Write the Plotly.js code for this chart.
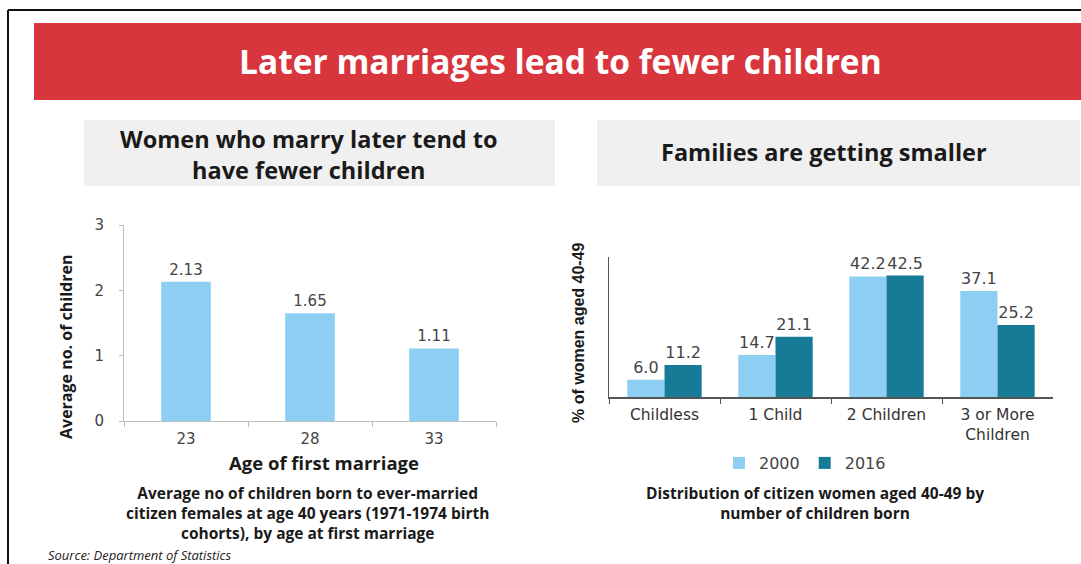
<!DOCTYPE html>
<html>
<head>
<meta charset="utf-8">
<script src="https://cdn.plot.ly/plotly-3.0.1.min.js"></script>
<style>
html,body{margin:0;padding:0;background:#fff;}
#chart{width:1081px;height:564px;}
</style>
</head>
<body>
<div id="chart"></div>
<script>
// ---- data ----
const ages = ['23', '28', '33'];
const avgChildren = [2.13, 1.65, 1.11];

const familyCats = ['Childless', '1 Child', '2 Children', '3 or More<br>Children'];
const pct2000 = [6.0, 14.7, 42.2, 37.1];
const pct2016 = [11.2, 21.1, 42.5, 25.2];

const seriesNames = ['2000', '2016'];

// ---- styles ----
const W = 1081, H = 564;
const px = x => x / W;
const py = y => 1 - y / H;
const lightBlue = '#8ccff2';
const darkTeal = '#177b98';
const calibri = '"Open Sans", Lato, sans-serif';
const verdana = '"DejaVu Sans", Verdana, sans-serif';
const dark = '#1a1a1a';

function note(text, x, y, size, opts) {
  return Object.assign({
    text: text, xref: 'paper', yref: 'paper', x: px(x), y: py(y),
    xanchor: 'center', yanchor: 'middle', showarrow: false,
    font: {family: calibri, size: size, color: dark}
  }, opts || {});
}

const traces = [
  {
    type: 'bar', x: ages, y: avgChildren, xaxis: 'x', yaxis: 'y',
    width: 0.4,
    marker: {color: lightBlue}, showlegend: false,
    texttemplate: '%{y:.2f}', textposition: 'outside', cliponaxis: false, constraintext: 'none',
    textfont: {family: verdana, size: 15, color: '#444'}
  },
  {
    type: 'bar', x: familyCats, y: pct2000, xaxis: 'x2', yaxis: 'y2',
    name: seriesNames[0], marker: {color: lightBlue},
    width: 0.335, offset: -0.335,
    texttemplate: '%{y:.1f}', textposition: 'outside', cliponaxis: false, constraintext: 'none',
    textfont: {family: verdana, size: 16, color: '#444'}
  },
  {
    type: 'bar', x: familyCats, y: pct2016, xaxis: 'x2', yaxis: 'y2',
    name: seriesNames[1], marker: {color: darkTeal},
    width: 0.335, offset: 0,
    texttemplate: '%{y:.1f}', textposition: 'outside', cliponaxis: false, constraintext: 'none',
    textfont: {family: verdana, size: 16, color: '#444'}
  }
];

const layout = {
  width: W, height: H,
  margin: {l: 0, r: 0, t: 0, b: 0},
  paper_bgcolor: '#fff', plot_bgcolor: 'rgba(0,0,0,0)',
  barmode: 'overlay',
  showlegend: true,
  legend: {
    orientation: 'h', x: px(805), y: py(463), xanchor: 'center', yanchor: 'middle',
    font: {family: verdana, size: 16, color: '#444'}, traceorder: 'normal',
    bgcolor: 'rgba(0,0,0,0)', itemwidth: 30
  },
  xaxis: {
    domain: [px(124), px(496)], anchor: 'y', type: 'category',
    showline: true, linecolor: '#bdbdbd', linewidth: 1,
    ticks: 'outside', tickson: 'boundaries', ticklen: 5, tickcolor: '#bdbdbd',
    ticklabelstandoff: 4,
    tickfont: {family: verdana, size: 15, color: '#444'},
    showgrid: false, zeroline: false, fixedrange: true
  },
  yaxis: {
    domain: [py(421), py(225)], anchor: 'x', range: [0, 3], dtick: 1,
    showline: true, linecolor: '#bdbdbd', linewidth: 1,
    ticks: 'outside', ticklen: 4, tickcolor: '#bdbdbd',
    ticklabelstandoff: 12,
    tickfont: {family: verdana, size: 15, color: '#444'},
    showgrid: false, zeroline: false, fixedrange: true
  },
  xaxis2: {
    domain: [px(609), px(1053)], anchor: 'y2', type: 'category',
    showline: true, linecolor: '#555', linewidth: 1.5,
    ticks: 'outside', tickson: 'boundaries', ticklen: 5, tickcolor: '#555',
    ticklabelstandoff: 3,
    tickfont: {family: verdana, size: 15.5, color: '#333'},
    showgrid: false, zeroline: false, fixedrange: true
  },
  yaxis2: {
    domain: [py(397), py(257)], anchor: 'x2', range: [0, 49],
    showline: true, linecolor: '#555', linewidth: 1.5,
    showticklabels: false, ticks: '',
    showgrid: false, zeroline: false, fixedrange: true
  },
  shapes: [
    {type: 'line', xref: 'paper', yref: 'paper', x0: px(8), x1: 1, y0: py(10), y1: py(10), line: {color: '#111', width: 2}, layer: 'below'},
    {type: 'line', xref: 'paper', yref: 'paper', x0: px(8), x1: px(8), y0: py(10), y1: 0, line: {color: '#111', width: 2}, layer: 'below'},
    {type: 'rect', xref: 'paper', yref: 'paper', x0: px(34), x1: 1, y0: py(100), y1: py(23), fillcolor: '#d8353d', line: {width: 0}, layer: 'below'},
    {type: 'rect', xref: 'paper', yref: 'paper', x0: px(84), x1: px(555), y0: py(186), y1: py(120), fillcolor: '#f0f0f0', line: {width: 0}, layer: 'below'},
    {type: 'rect', xref: 'paper', yref: 'paper', x0: px(597), x1: px(1080), y0: py(186), y1: py(120), fillcolor: '#f0f0f0', line: {width: 0}, layer: 'below'}
  ],
  annotations: [
    note('<b>Later marriages lead to fewer children</b>', 560, 61, 33.5, {font: {family: calibri, size: 33.5, color: '#fff'}}),
    note('<b>Women who marry later tend to<br>have fewer children</b>', 309, 154, 23.5),
    note('<b>Families are getting smaller</b>', 824, 152, 23.5),
    note('<b>Average no. of children</b>', 66, 347, 16, {textangle: -90}),
    note('<b>Age of first marriage</b>', 324, 462, 18.5),
    note('<b>% of women aged 40-49</b>', 578, 333, 16, {textangle: -90, font: {family: '"Liberation Sans Narrow", "Liberation Sans", Arial, sans-serif', size: 16, color: dark}}),
    note('<b>Average no of children born to ever-married<br>citizen females at age 40 years (1971-1974 birth<br>cohorts), by age at first marriage</b>', 307, 513, 15.5),
    note('<b>Distribution of citizen women aged 40-49 by<br>number of children born</b>', 815, 503, 15.5),
    note('<i>Source: Department of Statistics</i>', 46, 555, 13, {xanchor: 'left', font: {family: calibri, size: 13, color: '#222'}})
  ]
};

Plotly.newPlot('chart', traces, layout, {displayModeBar: false, staticPlot: true});
</script>
</body>
</html>
